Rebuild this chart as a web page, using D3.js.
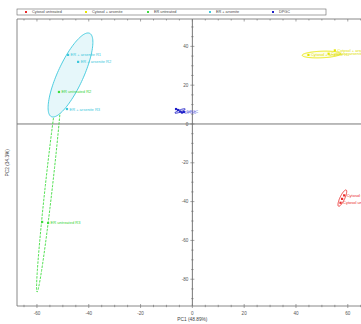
<!DOCTYPE html>
<html>
<head>
<meta charset="utf-8">
<script src="https://cdn.jsdelivr.net/npm/d3@7/dist/d3.min.js"></script>
<style>
  html, body { margin: 0; padding: 0; background: #fff; }
  svg { display: block; font-family: "Liberation Sans", Arial, sans-serif; }
</style>
</head>
<body>
<svg id="chart" width="361" height="324"></svg>
<script>
// PCA score plot (PC1 vs PC2) of cytosol / ER fractions

const groups = ["Cytosol untreated", "Cytosol + arsenite", "ER untreated", "ER + arsenite", "DPGC"];
const groupColors = ["#ea2a2a", "#e6e600", "#3fdc3f", "#3cc8dc", "#2020c8"];
const labelColors = ["#ea2a2a", "#e0e000", "#36d436", "#3cc8dc", "#5a5ae0"];

// sample scores: [PC1, PC2]
const cytosolUntreated = [[57.2, -40.6], [58.6, -36.8], [57.8, -38.6]];
const cytosolArsenite  = [[44.8, 35.6], [52.6, 36.2], [55.0, 37.9]];
const erUntreated      = [[-51.5, 16.5], [-58.0, -50.5], [-55.7, -51.0]];
const erArsenite       = [[-48.0, 35.6], [-44.1, 32.0], [-48.4, 7.7]];
const dpgc             = [[-6.3, 7.7], [-5.5, 7.2], [-4.7, 6.4], [-4.0, 5.9], [-3.2, 6.2]];

const cytosolUntreatedLabels = ["Cytosol untreated R1", "Cytosol untreated R2", ""];
const cytosolArseniteLabels  = ["Cytosol + arsenite R3", "Cytosol + arsenite R1", "Cytosol + arsenite R2"];
const erUntreatedLabels      = ["ER untreated R2", "", "ER untreated R3"];
const erArseniteLabels       = ["ER + arsenite R1", "ER + arsenite R2", "ER + arsenite R3"];
const dpgcLabels             = ["", "", "", "DPGC", "DPGC"];

// confidence ellipses: centre, first and second conjugate half-axes (PC units)
const ellipseCenters = [[57.9, -38.2], [49.8, 35.8], [-55.1, -28.6], [-47.05, 25.25], [-4.75, 6.7]];
const ellipseAxisA   = [[1.35, 4.2], [7.4, 0.4], [4.85, 58.0], [6.75, 21.65], [2.0, 1.0]];
const ellipseAxisB   = [[1.0, 0.0], [0.0, 1.7], [1.4, 0.0], [5.4, 0.0], [0.0, 0.6]];
const ellipseDashed  = [false, false, true, false, false];
const ellipseFills   = ["none", "#fdfde8", "none", "#e6f7fa", "#dcdcf6"];

const xTicks = [-60, -40, -20, 0, 20, 40, 60];
const yTicks = [-80, -60, -40, -20, 0, 20, 40];
const xTitle = "PC1 (48.89%)";
const yTitle = "PC2 (34.3%)";

const series = [
  { pts: cytosolUntreated, labels: cytosolUntreatedLabels },
  { pts: cytosolArsenite,  labels: cytosolArseniteLabels },
  { pts: erUntreated,      labels: erUntreatedLabels },
  { pts: erArsenite,       labels: erArseniteLabels },
  { pts: dpgc,             labels: dpgcLabels }
];

const svg = d3.select("#chart");
const plotLeft = 17, plotRight = 361, plotTop = 19, plotBottom = 306;

const x = d3.scaleLinear().domain([-67.7, 65.1]).range([plotLeft, plotRight]);
const y = d3.scaleLinear().domain([-93.8, 54.1]).range([plotBottom, plotTop]);

const axisColor = "#6a6a6a";
const textColor = "#555";

// frame: left and top edges
svg.append("line").attr("x1", plotLeft).attr("x2", plotLeft).attr("y1", plotTop).attr("y2", plotBottom)
  .attr("stroke", axisColor).attr("stroke-width", 0.8);
svg.append("line").attr("x1", plotLeft).attr("x2", plotRight).attr("y1", plotTop).attr("y2", plotTop)
  .attr("stroke", axisColor).attr("stroke-width", 0.8);

const minorX = d3.range(-65, 66, 5);
const minorY = d3.range(-90, 55, 5);

// top edge ticks
svg.append("g").selectAll("line").data(minorX).join("line")
  .attr("x1", d => x(d)).attr("x2", d => x(d))
  .attr("y1", plotTop).attr("y2", d => plotTop + (d % 20 === 0 ? 2.5 : 1.5))
  .attr("stroke", axisColor).attr("stroke-width", 0.6);

// bottom axis
svg.append("line").attr("x1", plotLeft).attr("x2", plotRight).attr("y1", plotBottom).attr("y2", plotBottom)
  .attr("stroke", axisColor).attr("stroke-width", 0.8);
svg.append("g").selectAll("line").data(minorX).join("line")
  .attr("x1", d => x(d)).attr("x2", d => x(d))
  .attr("y1", d => plotBottom - (d % 20 === 0 ? 2 : 1.2)).attr("y2", d => plotBottom + (d % 20 === 0 ? 2 : 1.2))
  .attr("stroke", axisColor).attr("stroke-width", 0.6);
svg.append("g").selectAll("text").data(xTicks).join("text")
  .attr("x", d => x(d)).attr("y", plotBottom + 8.5)
  .attr("text-anchor", "middle").attr("font-size", 4.6).attr("fill", textColor)
  .text(d => d);

// zero lines
svg.append("line").attr("x1", plotLeft).attr("x2", plotRight).attr("y1", y(0)).attr("y2", y(0))
  .attr("stroke", "#777").attr("stroke-width", 1);
svg.append("line").attr("x1", x(0)).attr("x2", x(0)).attr("y1", plotTop).attr("y2", plotBottom)
  .attr("stroke", "#777").attr("stroke-width", 1);

// vertical axis ticks on PC1 = 0
svg.append("g").selectAll("line").data(minorY).join("line")
  .attr("x1", d => x(0) - (d % 20 === 0 ? 2 : 1.2)).attr("x2", d => x(0) + (d % 20 === 0 ? 2 : 1.2))
  .attr("y1", d => y(d)).attr("y2", d => y(d))
  .attr("stroke", axisColor).attr("stroke-width", 0.6);
svg.append("g").selectAll("text").data(yTicks).join("text")
  .attr("x", x(0) - 4).attr("y", d => y(d) + 1.6)
  .attr("text-anchor", "end").attr("font-size", 4.6).attr("fill", textColor)
  .text(d => d);

// axis titles
svg.append("text").attr("x", x(0)).attr("y", 321)
  .attr("text-anchor", "middle").attr("font-size", 4.8).attr("fill", "#444").text(xTitle);
svg.append("text").attr("transform", `translate(9,${y(-20)}) rotate(-90)`)
  .attr("text-anchor", "middle").attr("font-size", 4.8).attr("fill", "#444").text(yTitle);

// ellipses, built in PC space and projected through the scales
const ellipsePath = (c, a, b) => {
  const ts = d3.range(0, 2 * Math.PI + 0.001, Math.PI / 60);
  return d3.line()(ts.map(t => [
    x(c[0] + Math.cos(t) * a[0] + Math.sin(t) * b[0]),
    y(c[1] + Math.cos(t) * a[1] + Math.sin(t) * b[1])
  ])) + "Z";
};

const gEll = svg.append("g");
groups.forEach((g, i) => {
  gEll.append("path")
    .attr("d", ellipsePath(ellipseCenters[i], ellipseAxisA[i], ellipseAxisB[i]))
    .attr("fill", ellipseFills[i])
    .attr("stroke", groupColors[i])
    .attr("stroke-width", 0.9)
    .attr("stroke-dasharray", ellipseDashed[i] ? "2.5,1.2" : null);
});

// sample points and labels
series.forEach((s, i) => {
  const g = svg.append("g");
  g.selectAll("rect").data(s.pts).join("rect")
    .attr("x", d => x(d[0]) - 1.1).attr("y", d => y(d[1]) - 1.1)
    .attr("width", 2.2).attr("height", 2.2)
    .attr("fill", groupColors[i]);
  g.selectAll("text").data(s.pts).join("text")
    .attr("x", d => x(d[0]) + 2.5).attr("y", d => y(d[1]) + 1.5)
    .attr("font-size", 4).attr("fill", labelColors[i])
    .text((d, j) => s.labels[j]);
});

// legend
const lg = svg.append("g");
lg.append("rect").attr("x", 17).attr("y", 9).attr("width", 309).attr("height", 6)
  .attr("fill", "#fff").attr("stroke", "#666").attr("stroke-width", 0.6);
const legendX = [25, 85, 147, 209, 272];
groups.forEach((g, i) => {
  lg.append("rect").attr("x", legendX[i]).attr("y", 11).attr("width", 2).attr("height", 2)
    .attr("fill", groupColors[i]);
  lg.append("text").attr("x", legendX[i] + 7).attr("y", 13.4)
    .attr("font-size", 3.8).attr("fill", "#444").text(g);
});
</script>
</body>
</html>
